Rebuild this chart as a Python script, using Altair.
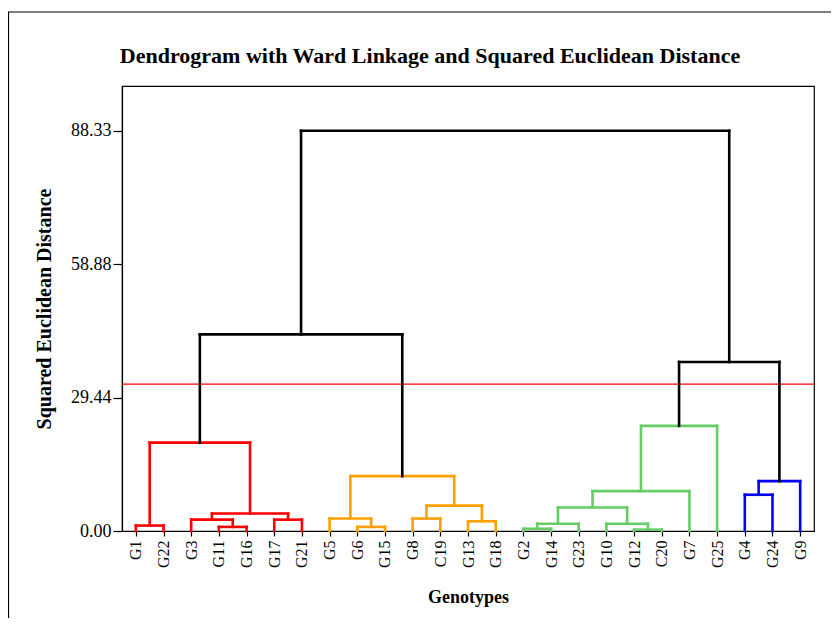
import altair as alt
import pandas as pd

# ---- data ----
leaves = ["G1", "G22", "G3", "G11", "G16", "G17", "G21", "G5", "G6", "G15",
          "G8", "C19", "G13", "G18", "G2", "G14", "G23", "G10", "G12", "C20",
          "G7", "G25", "G4", "G24", "G9"]

# merge id, left child, right child, height, cluster group
merge_ids = ["m1", "m2", "m3", "m4", "m5", "m6",
             "o1", "o2", "o3", "o4", "o5", "o6",
             "g1", "g2", "g3", "g4", "g5", "g6", "g7",
             "b1", "b2",
             "k1", "k2", "k3"]
merge_left = ["G1", "G11", "G3", "G17", "m3", "m1",
              "G6", "G5", "G8", "G13", "o3", "o2",
              "G2", "g1", "G12", "G10", "g2", "g5", "g6",
              "G4", "b1",
              "m6", "g7", "k1"]
merge_right = ["G22", "G16", "m2", "G21", "m4", "m5",
               "G15", "o1", "C19", "G18", "o4", "o5",
               "G14", "G23", "C20", "g3", "g4", "G7", "G25",
               "G24", "G9",
               "o6", "b2", "k2"]
merge_height = [1.2, 0.9, 2.5, 2.5, 3.85, 19.5,
                0.9, 2.75, 2.75, 2.15, 5.6, 12.1,
                0.5, 1.6, 0.3, 1.6, 5.2, 8.8, 23.2,
                8.0, 11.0,
                43.4, 37.3, 88.33]
merge_group = ["A"] * 6 + ["B"] * 6 + ["C"] * 7 + ["D"] * 2 + ["K"] * 3

cut_height = [32.4]
y_ticks = [0.00, 29.44, 58.88, 88.33]

group_domain = ["A", "B", "C", "D", "K"]
group_colors = ["#FF0000", "#FFA000", "#66CC66", "#0000FF", "#000000"]

# ---- build dendrogram link segments ----
pos = {name: float(i) for i, name in enumerate(leaves)}
hgt = {name: 0.0 for name in leaves}
rows = []
for mid, l, r, h, g in zip(merge_ids, merge_left, merge_right, merge_height, merge_group):
    xl, xr = pos[l], pos[r]
    rows.append(dict(x=xl, x2=xl, y=hgt[l], y2=h, grp=g))
    rows.append(dict(x=xl, x2=xr, y=h, y2=h, grp=g))
    rows.append(dict(x=xr, x2=xr, y=hgt[r], y2=h, grp=g))
    pos[mid] = (xl + xr) / 2
    hgt[mid] = h
seg = pd.DataFrame(rows)

label_expr = "[" + ",".join("'%s'" % s for s in leaves) + "][datum.value]"

xscale = alt.Scale(domain=[-0.5, 24.5], nice=False, zero=False)
yscale = alt.Scale(domain=[0, 98.2], nice=False, zero=False)

links = alt.Chart(seg).mark_rule(strokeWidth=2.6, strokeCap="square").encode(
    x=alt.X("x:Q", scale=xscale,
            axis=alt.Axis(title="Genotypes", values=list(range(len(leaves))),
                          labelExpr=label_expr, labelAngle=270, labelAlign="right",
                          labelBaseline="middle", tickSize=5, labelPadding=4,
                          grid=False, titlePadding=21, labelFontSize=16,
                          titleFontSize=18)),
    x2="x2:Q",
    y=alt.Y("y:Q", scale=yscale,
            axis=alt.Axis(title="Squared Euclidean Distance", values=y_ticks,
                          format=".2f", tickSize=9, labelPadding=2, grid=False,
                          titlePadding=16, labelFontSize=18, titleFontSize=20)),
    y2="y2:Q",
    color=alt.Color("grp:N", scale=alt.Scale(domain=group_domain, range=group_colors),
                    legend=None),
)

cut = alt.Chart(pd.DataFrame({"h": cut_height})).mark_rule(
    color="#FF0000", strokeWidth=1.2
).encode(y=alt.Y("h:Q", scale=yscale))

frame = alt.Chart(pd.DataFrame({"a": [0]})).mark_rect(
    fill=None, stroke="black", strokeWidth=1.2
).encode(x=alt.value(-113.5), x2=alt.value(900), y=alt.value(-74), y2=alt.value(700))

chart = alt.layer(frame, cut, links).properties(
    width=692,
    height=445,
    autosize=alt.AutoSizeParams(type="none"),
    padding={"left": 114, "top": 78, "right": 17, "bottom": 87},
    title=alt.TitleParams(
        "Dendrogram with Ward Linkage and Squared Euclidean Distance",
        font="Liberation Serif", fontSize=22, fontWeight="bold", color="black",
        anchor="middle", frame="group", dx=-38, dy=57, offset=0,
    ),
).configure_view(stroke="black", strokeWidth=1.2).configure_axis(
    labelFont="Liberation Serif", titleFont="Liberation Serif",
    titleFontWeight="bold",
    labelColor="black", titleColor="black", domainColor="black",
    tickColor="black", domainWidth=1.2, tickWidth=1.2,
)

chart.save("out.html", embed_options={"renderer": "svg", "actions": False})
